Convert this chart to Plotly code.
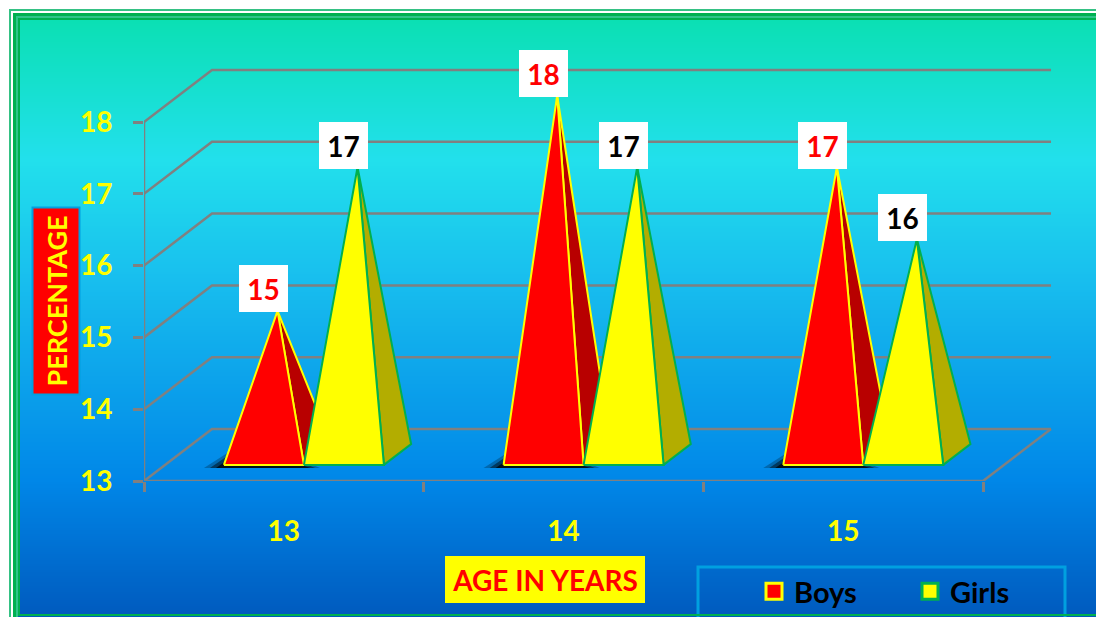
import plotly.graph_objects as go

ages = ["13", "14", "15"]
boys = [15, 18, 17]
girls = [17, 17, 16]
y_ticks = [13, 14, 15, 16, 17, 18]
series_names = ["Boys", "Girls"]

W, H = 1096, 617
X0, Y0 = 144, 481
PX_CAT = 279.67
PX_VAL = 71.8
DX = 68 / PX_CAT
DY = 52 / PX_VAL
BAR_W = 80 / PX_CAT
D_FRONT, D_BACK = 0.31, 0.71
D_MID = (D_FRONT + D_BACK) / 2
FONT = "Lato"
GRID = "#808080"
GREEN = "#00B050"


def px(x):
    return (x - X0) / (W - X0)


def py(y):
    return (Y0 - y) / Y0


def proj(x, v, d):
    return x + d * DX, v + d * DY


def rect(x0, y0, x1, y1, color):
    return dict(type="rect", xref="paper", yref="paper", x0=px(x0), x1=px(x1),
                y0=py(y0), y1=py(y1), fillcolor=color, line=dict(width=0), layer="below")


shapes = [
    rect(9, 9, 1120, 640, "#35C184"),
    rect(11, 11, 1120, 640, "#FFFFFF"),
    rect(13, 13, 1120, 640, "#00B050"),
    rect(16, 16, 1120, 640, "#2FC58A"),
    rect(18, 18, 1120, 640, GREEN),
]

stops = [(20, (11, 224, 180)), (160, (34, 224, 236)), (280, (24, 190, 238)),
         (480, (0, 135, 232)), (617, (0, 90, 190))]


def grad(y):
    for (a, ca), (b, cb) in zip(stops, stops[1:]):
        if a <= y <= b:
            t = (y - a) / (b - a)
            return "rgb(%d,%d,%d)" % tuple(round(p + (q - p) * t) for p, q in zip(ca, cb))
    return "rgb(0,90,190)"


# each band runs to the bottom of the panel, so later bands overlap earlier ones without seams
y = 20
while y < 614:
    shapes.append(rect(20, y, 1120, 614, grad(y + 1)))
    y += 2
shapes.append(rect(18, 616, 1120, 640, grad(616)))
shapes.append(dict(type="rect", xref="paper", yref="paper", x0=px(698), x1=px(1065),
                   y0=py(567), y1=py(650), line=dict(color="#00A0E0", width=3),
                   fillcolor="rgba(0,0,0,0)", layer="below"))
shapes.append(rect(18, 614, 1120, 616, GREEN))

fig = go.Figure()


def line(xs, ys, color=GRID, width=2.5):
    fig.add_trace(go.Scatter(x=xs, y=ys, mode="lines", line=dict(color=color, width=width),
                             showlegend=False, hoverinfo="skip", cliponaxis=False))


def face(points, fill, outline):
    xs = [p[0] for p in points] + [points[0][0]]
    ys = [p[1] for p in points] + [points[0][1]]
    fig.add_trace(go.Scatter(x=xs, y=ys, mode="lines", fill="toself", fillcolor=fill,
                             line=dict(color=outline, width=2), showlegend=False, hoverinfo="skip"))


n_cat = len(ages)
base = y_ticks[0]
for v in y_ticks:
    bx, by = proj(0, v, 1)
    ex, ey = proj(n_cat, v, 1)
    line([0, bx, ex], [v, by, ey])
line([0, 0], [y_ticks[0], y_ticks[-1]])
fx, fy = proj(n_cat, base, 1)
line([0, n_cat, fx], [base, base, fy])

BAR_SHIFT = -1 / PX_CAT
for i in range(n_cat):
    b_left = i + 0.5 - BAR_W + BAR_SHIFT
    # soft floor shadow beside the boys' pyramid
    for grow, rise, alpha in ((20, 13, 0.25), (14, 10, 0.45), (8, 6, 0.75)):
        sx0, sv0 = proj(b_left, base, D_FRONT)
        sh = [(sx0 - grow / PX_CAT, sv0 - 3 / PX_VAL),
              (sx0 + 5 / PX_CAT, sv0 + rise / PX_VAL),
              (sx0 + 60 / PX_CAT, sv0 + rise / PX_VAL),
              (sx0 + (80 + 0.8 * grow) / PX_CAT, sv0 - 3 / PX_VAL)]
        fig.add_trace(go.Scatter(x=[p[0] for p in sh], y=[p[1] for p in sh], mode="lines",
                                 fill="toself", fillcolor="rgba(0,0,0,%s)" % alpha,
                                 line=dict(width=0), showlegend=False, hoverinfo="skip"))
    for j, (vals, front, side, outline) in enumerate((
            (boys, "#FF0000", "#B80000", "#FFFF00"),
            (girls, "#FFFF00", "#B3AD00", GREEN))):
        left = b_left + j * BAR_W
        right = left + BAR_W
        apex = proj((left + right) / 2, vals[i], D_MID)
        face([proj(right, base, D_FRONT), proj(right, base, D_BACK), apex], side, outline)
        face([proj(left, base, D_FRONT), proj(right, base, D_FRONT), apex], front, outline)

annotations = []
for vals, color in ((boys, "#FF0000"), (girls, "#000000")):
    for i, v in enumerate(vals):
        centre = i + 0.5 - BAR_W + BAR_SHIFT + (0.5 if color == "#FF0000" else 1.5) * BAR_W
        ax, ay = proj(centre, v, D_MID)
        annotations.append(dict(x=ax - 14 / PX_CAT, y=ay - 1.5 / PX_VAL, xref="x", yref="y",
                                xanchor="center", yanchor="bottom", text=str(v), showarrow=False,
                                width=49, height=47, bgcolor="#FFFFFF", borderpad=0, borderwidth=0,
                                font=dict(family=FONT, size=28, color=color, weight="bold")))

annotations.append(dict(x=px(56), y=py(301.5), xref="paper", yref="paper", text="PERCENTAGE",
                        xanchor="center", yanchor="middle",
                        textangle=-90, showarrow=False, width=185, height=45, bgcolor="#FF0000",
                        bordercolor="#00A0E0", borderwidth=2, borderpad=0,
                        font=dict(family=FONT, size=27, color="#FFFF00", weight="bold")))
annotations.append(dict(x=px(545), y=py(579), xref="paper", yref="paper", text="AGE IN YEARS",
                        xanchor="center", yanchor="middle",
                        showarrow=False, width=200, height=47, bgcolor="#FFFF00", borderpad=0,
                        borderwidth=0,
                        font=dict(family=FONT, size=28, color="#FF0000", weight="bold")))

for name, fill, outline in zip(series_names, ("#FF0000", "#FFFF00"), ("#FFFF00", GREEN)):
    fig.add_trace(go.Scatter(x=[None], y=[None], mode="markers", name=name,
                             marker=dict(symbol="square", size=18, color=fill,
                                         line=dict(color=outline, width=3))))

fig.update_layout(
    width=W, height=H, margin=dict(l=X0, r=0, t=0, b=H - Y0), autosize=False,
    paper_bgcolor="#FFFFFF", plot_bgcolor="rgba(0,0,0,0)", shapes=shapes, annotations=annotations,
    font=dict(family=FONT),
    legend=dict(orientation="h", xref="container", yref="container",
                x=754 / W, y=(H - 566) / H, xanchor="left", yanchor="top",
                bgcolor="rgba(0,0,0,0)", itemsizing="trace", itemclick=False,
                entrywidth=111, entrywidthmode="pixels",
                font=dict(family=FONT, size=29, color="#000000", weight="bold")),
    xaxis=dict(range=[0, (W - X0) / PX_CAT], showgrid=False, zeroline=False, showline=False,
               tickmode="array", tickvals=[i + 0.5 for i in range(n_cat)], ticktext=ages,
               ticks="", ticklabelstandoff=31,
               tickfont=dict(family=FONT, size=28, color="#FFFF00", weight="bold"),
               minor=dict(tickmode="array", tickvals=list(range(n_cat + 1)), ticks="outside",
                          ticklen=10, tickwidth=2.5, tickcolor=GRID, showgrid=False)),
    yaxis=dict(range=[base, base + Y0 / PX_VAL], showgrid=False, zeroline=False, showline=False,
               tickmode="array", tickvals=y_ticks, ticks="outside", ticklen=10, tickwidth=2.5,
               tickcolor=GRID, ticklabelstandoff=15,
               tickfont=dict(family=FONT, size=28, color="#FFFF00", weight="bold")),
)

fig.write_html("out.html", config={"displayModeBar": False},
               post_script="document.body.style.margin='0';document.body.style.overflow='hidden';")
